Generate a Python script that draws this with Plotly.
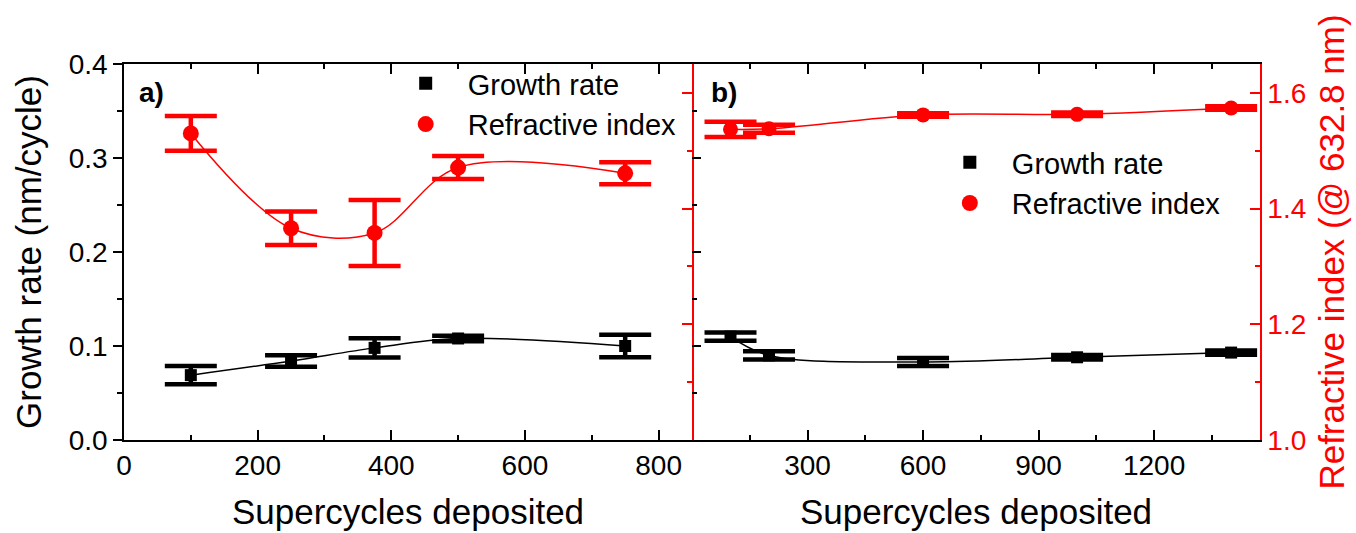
import plotly.graph_objects as go

# ---- data ----
xa = [100, 250, 375, 500, 750]
growth_a = [0.069, 0.084, 0.098, 0.108, 0.100]
growth_a_err = [0.0098, 0.0062, 0.0103, 0.003, 0.012]
index_a = [1.530, 1.366, 1.358, 1.471, 1.461]
index_a_err = [0.030, 0.029, 0.057, 0.020, 0.019]

xb = [100, 200, 600, 1000, 1400]
growth_b = [0.110, 0.090, 0.083, 0.088, 0.093]
growth_b_err = [0.0043, 0.0043, 0.0043, 0.0023, 0.0023]
index_b = [1.537, 1.538, 1.562, 1.563, 1.574]
index_b_err = [0.013, 0.007, 0.003, 0.003, 0.003]

xa_ticks_dtick = 200
xb_tickvals = [0, 300, 600, 900, 1200]
xb_ticktext = ["", "300", "600", "900", "1200"]

FONT = "Arial, Liberation Sans, sans-serif"
RED = "#ff0000"
BLACK = "#000000"

fig = go.Figure()

def series(x, y, err, color, symbol, size, xaxis, yaxis):
    return go.Scatter(
        x=x, y=y, mode="lines+markers", xaxis=xaxis, yaxis=yaxis,
        line=dict(color=color, width=1.5, shape="spline", smoothing=1.0),
        marker=dict(color=color, symbol=symbol, size=size),
        error_y=dict(type="data", array=err, visible=True, color=color,
                     thickness=4.5, width=26),
        showlegend=False, cliponaxis=False,
    )

fig.add_trace(series(xa, growth_a, growth_a_err, BLACK, "square", 12, "x", "y"))
fig.add_trace(series(xa, index_a, index_a_err, RED, "circle", 16, "x", "y2"))
fig.add_trace(series(xb, growth_b, growth_b_err, BLACK, "square", 12, "x2", "y3"))
fig.add_trace(series(xb, index_b, index_b_err, RED, "circle", 15, "x2", "y4"))

# legend entries
for leg in ["legend", "legend2"]:
    fig.add_trace(go.Scatter(x=[None], y=[None], mode="markers", name="Growth rate",
                             marker=dict(color=BLACK, symbol="square", size=13),
                             legend=leg, xaxis="x", yaxis="y"))
    fig.add_trace(go.Scatter(x=[None], y=[None], mode="markers", name="Refractive index",
                             marker=dict(color=RED, symbol="circle", size=16),
                             legend=leg, xaxis="x", yaxis="y"))

tickfont = dict(family=FONT, size=28, color=BLACK)
titlefont = dict(family=FONT, size=35, color=BLACK)

common_x = dict(showline=True, linecolor=BLACK, linewidth=1.5, ticks="inside",
                ticklen=10, tickwidth=1.5, tickcolor=BLACK, mirror="ticks",
                showgrid=False, zeroline=False, tickfont=tickfont, automargin=False)

fig.update_layout(
    width=1356, height=533,
    margin=dict(l=124, r=96, t=64, b=93, autoexpand=False),
    paper_bgcolor="white", plot_bgcolor="white",
    font=dict(family=FONT, color=BLACK),
    xaxis=dict(domain=[0, 0.5], range=[0, 850], dtick=xa_ticks_dtick, tick0=0,
               minor=dict(dtick=100, ticklen=5, ticks="inside", tickcolor=BLACK),
               title=dict(text="Supercycles deposited", font=titlefont, standoff=19),
               anchor="y", **common_x),
    xaxis2=dict(domain=[0.5, 1], range=[0, 1475], tickmode="array",
                tickvals=xb_tickvals, ticktext=xb_ticktext,
                minor=dict(dtick=150, tick0=0, ticklen=5, ticks="inside", tickcolor=BLACK),
                title=dict(text="Supercycles deposited", font=titlefont, standoff=19),
                anchor="y3", **common_x),
    yaxis=dict(range=[0, 0.4], dtick=0.1, tickformat=".1f", anchor="x", automargin=False,
               showline=True, linecolor=BLACK, linewidth=1.5, ticks="outside",
               ticklen=9, tickwidth=1.5, tickcolor=BLACK,
               minor=dict(dtick=0.05, ticklen=5, ticks="outside", tickcolor=BLACK),
               showgrid=False, zeroline=False, tickfont=tickfont,
               title=dict(text="Growth rate (nm/cycle)", font=titlefont, standoff=16)),
    yaxis2=dict(range=[1.0, 1.65], overlaying="y", side="right", anchor="x", automargin=False,
                dtick=0.2, tick0=1.0, showticklabels=False,
                showline=True, linecolor=RED, linewidth=1.5, ticks="inside",
                ticklen=10, tickwidth=1.5, tickcolor=RED,
                minor=dict(dtick=0.1, ticklen=5, ticks="inside", tickcolor=RED),
                showgrid=False, zeroline=False),
    yaxis3=dict(range=[0, 0.4], dtick=0.1, anchor="x2", showticklabels=False, automargin=False,
                showline=False, ticks="inside", ticklen=9, tickwidth=1.5, tickcolor=BLACK,
                minor=dict(dtick=0.05, ticklen=5, ticks="inside", tickcolor=BLACK),
                showgrid=False, zeroline=False),
    yaxis4=dict(range=[1.0, 1.65], overlaying="y3", side="right", anchor="x2", automargin=False,
                dtick=0.2, tick0=1.0, tickformat=".1f",
                showline=True, linecolor=RED, linewidth=1.5, ticks="inside",
                ticklen=10, tickwidth=1.5, tickcolor=RED,
                minor=dict(dtick=0.1, ticklen=5, ticks="inside", tickcolor=RED),
                showgrid=False, zeroline=False,
                tickfont=dict(family=FONT, size=28, color=RED),
                title=dict(text="Refractive index (@ 632.8 nm)",
                           font=dict(family=FONT, size=35, color=RED), standoff=14)),
    legend=dict(x=0.2286, y=1.016, xanchor="left", yanchor="top",
                bgcolor="rgba(0,0,0,0)", itemwidth=74,
                font=dict(family=FONT, size=29, color=BLACK), tracegroupgap=0),
    legend2=dict(x=0.7076, y=0.806, xanchor="left", yanchor="top",
                 bgcolor="rgba(0,0,0,0)", itemwidth=74,
                 font=dict(family=FONT, size=29, color=BLACK), tracegroupgap=0),
    annotations=[
        dict(text="<b>a)</b>", x=0.0246, y=0.923, xref="paper", yref="paper",
             xanchor="center", yanchor="middle",
             showarrow=False, font=dict(family=FONT, size=28, color=BLACK)),
        dict(text="<b>b)</b>", x=0.528, y=0.923, xref="paper", yref="paper",
             xanchor="center", yanchor="middle",
             showarrow=False, font=dict(family=FONT, size=28, color=BLACK)),
    ],
)

fig.write_html("out.html", config={"displayModeBar": False},
               post_script="document.body.style.margin='0';document.body.style.padding='0';")
